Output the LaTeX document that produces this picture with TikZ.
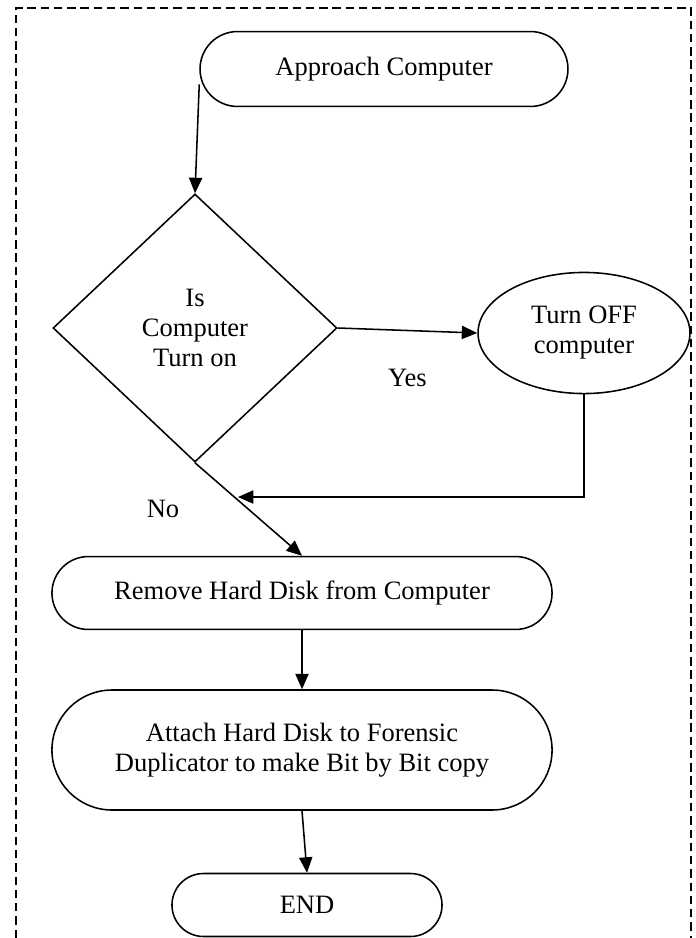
\documentclass[tikz,border=0pt]{standalone}
\usepackage{fontspec}
\setmainfont{Liberation Serif}
\usepackage{tikz}
\usetikzlibrary{shapes.misc,shapes.geometric,arrows.meta}
\tikzstyle{arrow} = [-{Triangle[length=7pt,width=6pt]},line width=0.7pt]
\tikzstyle{term} = [draw,line width=0.7pt,rounded rectangle,align=center,inner sep=0pt]
\tikzstyle{decision} = [draw,line width=0.7pt,diamond,align=center,inner sep=0pt]
\tikzstyle{process} = [draw,line width=0.7pt,ellipse,align=center,inner sep=0pt]
\tikzstyle{frame} = [line width=0.9pt,dash pattern=on 3.8pt off 2.2pt]

\begin{document}
\begin{tikzpicture}[x=0.4525pt,y=-0.4525pt]
        \fontsize{12}{13.6}\selectfont
        \useasboundingbox (0,0) rectangle (696,938);
        \draw[frame] (16,938) -- (16,8) -- (691,8) -- (691,938);

        \node[term, minimum width=166.5pt, minimum height=33.9pt] at (384,69) (approach) {Approach Computer};
        \node[decision, minimum width=128.5pt, minimum height=121.3pt] at (195,328) (ison) {Is\\Computer\\Turn on};
        \node[process, minimum width=95.9pt, minimum height=54.8pt] at (584,333) (turnoff) {Turn OFF\\computer};
        \node[term, minimum width=226.3pt, minimum height=33pt] at (302,593) (remove) {Remove Hard Disk from Computer};
        \node[term, minimum width=226.3pt, minimum height=54.3pt] at (302,750) (attach) {Attach Hard Disk to Forensic\\Duplicator to make Bit by Bit copy};
        \node[term, minimum width=122.2pt, minimum height=28.5pt] at (307,905) (end) {END};
        \coordinate (join) at (238,497);

        \draw[arrow] ([yshift=-7pt]approach.west) -- (ison.north);
        \draw[arrow] (ison.east) -- (turnoff.west) node[midway,below=13pt]{Yes};
        \draw[arrow] (turnoff.south) |- (join);
        \draw[arrow] (ison.south) -- (remove.north) node[midway,left=27pt]{No};
        \draw[arrow] (remove.south) -- (attach.north);
        \draw[arrow] (attach.south) -- (end.north);
\end{tikzpicture}
\end{document}
